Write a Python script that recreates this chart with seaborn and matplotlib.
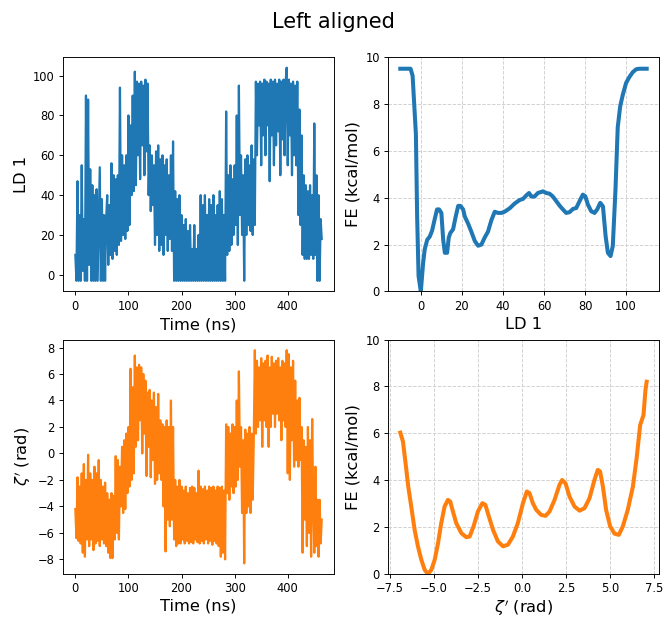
import numpy as np
import matplotlib
matplotlib.use("Agg")
import matplotlib.pyplot as plt
import seaborn as sns

# ---------------- data ----------------
time_step_ns = 2
ld1_series = [
    10, -3, 47, -3, 30, -3, 55, 2, 28, -3,
    90, -3, 88, 5, 53, -3, 45, -3, 40, -3,
    43, -3, 25, 54, -3, 38, -3, 30, -3, 28,
    40, 5, 35, 10, 56, 8, 50, 12, 48, 10,
    50, 15, 94, 17, 60, 20, 55, 18, 60, 22,
    80, 25, 75, 40, 90, 42, 102, 45, 97, 60,
    96, 48, 97, 65, 95, 50, 98, 62, 96, 40,
    65, 32, 60, 35, 55, 15, 62, 20, 65, 12,
    58, 15, 60, 10, 55, 20, 58, 12, 50, 18,
    60, 12, 67, -3, 42, -3, 38, -3, 40, -3,
    30, -3, 25, -3, 28, -3, 22, -3, 25, -3,
    13, -3, 25, -3, 13, -3, 20, -3, 40, -3,
    35, -3, 40, -3, 30, -3, 38, -3, 35, -3,
    40, -3, 30, -3, 35, -3, 42, -3, 38, -3,
    30, -3, 82, 10, 50, 12, 55, 15, 48, 20,
    55, 25, 80, 15, 95, 30, 60, 20, 50, -3,
    58, 20, 60, 25, 55, 22, 65, 20, 58, 25,
    97, 60, 96, 75, 97, 55, 96, 70, 98, 60,
    97, 75, 96, 47, 98, 70, 97, 55, 98, 65,
    96, 72, 98, 50, 97, 68, 98, 60, 97, 104,
    55, 98, 70, 96, 50, 97, 60, 95, 55, 97,
    30, 83, 25, 70, 10, 50, 8, 45, 8, 42,
    8, 45, 10, 40, 8, 76, 10, 50, -3, 40,
    -3, 28, 18,
]
zeta_series = [
    -4.2, -6.4, -1.8, -6.6, -2.5, -6.8, -1.5, -7.5, -0.8, -7.8,
    -2.0, -6.5, -0.1, -7.0, -1.5, -6.5, -2.0, -7.3, -1.0, -6.8,
    -1.5, -6.6, -0.5, -7.0, -2.0, -6.5, -2.5, -6.8, -2.2, -7.0,
    -3.0, -7.5, -3.5, -7.9, -3.0, -7.9, -3.2, -6.5, -0.2, -6.0,
    -0.5, -6.5, -1.0, -4.0, 0.5, -4.5, 1.0, -4.2, 1.5, -3.0,
    2.0, -2.5, 6.4, -2.0, 5.0, -1.5, 7.4, 0.5, 6.5, 1.0,
    6.7, 2.5, 6.5, 0.0, 6.0, 1.5, 5.5, -1.7, 4.6, 0.5,
    4.8, -1.8, 4.0, -0.5, 4.6, -2.3, 3.5, -2.0, 4.5, -1.5,
    2.5, -2.0, 2.2, -4.0, 2.0, -7.4, 2.5, -5.0, 2.0, -5.5,
    4.0, -5.0, 2.0, -6.5, -2.0, -7.0, -2.5, -6.8, -2.0, -6.8,
    -2.5, -6.5, -2.8, -6.8, -2.5, -6.6, -3.0, -6.8, -2.6, -6.7,
    -2.5, -6.8, -2.6, -6.5, -3.0, -6.7, -1.3, -6.8, -2.5, -6.6,
    -2.7, -6.8, -2.5, -6.5, -2.8, -6.8, -2.5, -6.6, -2.6, -6.9,
    -2.5, -6.6, -2.8, -6.8, -2.5, -7.0, -2.6, -7.8, -2.5, -7.5,
    -2.8, -8.0, 2.2, -3.0, 2.0, -3.5, 1.5, -2.5, 2.2, -3.0,
    2.0, -2.5, 4.0, -2.0, 6.2, -1.0, 2.0, -4.5, 1.0, -8.3,
    1.8, -4.5, 1.5, -4.0, 2.0, -4.5, 1.5, -3.5, 1.0, 7.8,
    1.5, 7.0, 2.0, 6.5, 2.5, 7.2, 0.5, 6.8, 2.5, 7.0,
    2.0, 7.4, 0.5, 6.5, 2.0, 7.3, 3.0, 6.8, 2.0, 7.0,
    3.0, 7.2, 2.5, 6.5, 1.0, 7.0, 2.5, 6.8, 2.0, 7.8,
    -1.5, 7.5, -2.0, 6.5, 1.0, 7.0, -1.0, 5.5, -0.5, 4.0,
    -1.0, 4.2, -0.5, 2.0, -7.5, 1.0, -5.0, 0.5, -7.0, 2.0,
    -6.0, 1.0, -7.8, 2.6, -4.0, -7.5, -1.0, -7.0, -3.5, -7.8,
    -3.5, -6.8, -5.0,
]

fe_ld1_x = [-10, -5, -4, -2.4, -1.8, -1.1, 0, 1.1, 1.9, 3.1, 4.4, 5.5, 6.8, 7.9, 8.9,
            10, 10.9, 11.7, 12.8, 13.6, 14.4, 15.7, 17, 18.2, 19.3, 20.6, 21.4, 23,
            24.6, 26.3, 27.9, 29.5, 31.1, 32.7, 34.4, 36, 37.6, 39.2, 40.8, 43.3,
            45.7, 48.1, 49.8, 51.4, 52.7, 53.8, 55.4, 57, 59.5, 61.1, 62.7, 64.3,
            66, 67.6, 69.2, 70.8, 72.4, 74.1, 75.7, 77.3, 78.9, 80.1, 81.4, 83,
            84.6, 85.9, 87.4, 88.7, 90, 91.1, 92.4, 93.5, 94.8, 95.9, 97.1, 98.4,
            100, 101.6, 103.2, 104.9, 106.5, 110]
fe_ld1_y = [9.5, 9.5, 9.2, 6.7, 3.2, 0.66, 0.0, 1.2, 1.8, 2.2, 2.35, 2.6, 3.1, 3.5, 3.5,
            3.35, 2.2, 1.65, 1.65, 2.3, 2.5, 2.65, 3.2, 3.65, 3.65, 3.5, 3.2, 2.9,
            2.55, 2.15, 1.95, 2.0, 2.3, 2.55, 3.05, 3.4, 3.35, 3.35, 3.4, 3.55,
            3.75, 3.9, 3.95, 4.1, 4.2, 4.05, 4.05, 4.2, 4.27, 4.2, 4.17, 4.05,
            3.85, 3.66, 3.5, 3.35, 3.38, 3.52, 3.56, 3.85, 4.13, 4.06, 3.7, 3.42,
            3.35, 3.5, 3.78, 3.63, 2.36, 1.65, 1.51, 1.94, 4.34, 7.0, 7.9, 8.4,
            8.9, 9.15, 9.35, 9.48, 9.5, 9.5]

fe_zeta_x = [-6.9, -6.75, -6.6, -6.45, -6.28, -6.09, -5.9, -5.71, -5.52, -5.33, -5.14,
             -4.95, -4.76, -4.58, -4.39, -4.2, -4.07, -3.92, -3.73, -3.44, -3.16,
             -2.97, -2.75, -2.5, -2.25, -2.08, -1.88, -1.65, -1.37, -1.08, -0.8,
             -0.52, -0.24, 0.05, 0.27, 0.42, 0.61, 0.8, 1.08, 1.33, 1.56, 1.84,
             2.12, 2.27, 2.46, 2.69, 2.97, 3.26, 3.54, 3.82, 4.1, 4.29, 4.42, 4.58,
             4.76, 4.99, 5.24, 5.48, 5.71, 5.99, 6.28, 6.5, 6.69, 6.88, 6.99, 7.06]
fe_zeta_y = [6.03, 5.65, 4.72, 3.73, 2.88, 1.89, 1.18, 0.61, 0.18, 0.0, 0.18,
             0.61, 1.32, 2.17, 2.88, 3.16, 3.09, 2.67, 2.17, 1.74, 1.57,
             1.6, 2.03, 2.67, 3.02, 2.95, 2.45, 1.89, 1.39, 1.18, 1.25,
             1.6, 2.17, 3.02, 3.52, 3.45, 3.02, 2.74, 2.52, 2.48, 2.67, 3.16,
             3.8, 4.01, 3.87, 3.3, 2.88, 2.7, 2.81, 3.23, 4.01, 4.44, 4.37, 3.73,
             2.74, 2.03, 1.72, 1.67, 2.03, 2.74, 3.73, 5.0, 6.35, 6.78, 7.84, 8.2]

title = "Left aligned"
blue = "#1f77b4"
orange = "#ff7f0e"

# ---------------- style ----------------
plt.rcParams.update({
    "font.family": ["DejaVu Sans"],
    "xtick.labelsize": 8.3,
    "ytick.labelsize": 8.3,
    "axes.labelsize": 11.7,
    "axes.linewidth": 0.67,
    "xtick.major.size": 2.9,
    "ytick.major.size": 2.9,
    "xtick.major.width": 0.67,
    "ytick.major.width": 0.67,
    "xtick.major.pad": 2.9,
    "ytick.major.pad": 2.9,
    "axes.labelpad": 3.3,
})

fig, axes = plt.subplots(2, 2, figsize=(6.67, 6.17), dpi=100)
fig.subplots_adjust(left=0.0945, right=0.988, top=0.9076, bottom=0.0697,
                    wspace=0.199, hspace=0.205)

t = np.arange(len(ld1_series)) * time_step_ns

ax = axes[0, 0]
sns.lineplot(x=t, y=ld1_series, ax=ax, color=blue, linewidth=1.6)
ax.set_xlabel("Time (ns)")
ax.set_ylabel("LD 1")

ax = axes[0, 1]
sns.lineplot(x=fe_ld1_x, y=fe_ld1_y, ax=ax, color=blue, linewidth=2.9, sort=False)
ax.set_ylim(0, 10)
ax.grid(True, linestyle="--", color="#d0d0d0", linewidth=0.67)
ax.set_axisbelow(True)
ax.set_xlabel("LD 1")
ax.set_ylabel("FE (kcal/mol)")

t2 = np.arange(len(zeta_series)) * time_step_ns
ax = axes[1, 0]
sns.lineplot(x=t2, y=zeta_series, ax=ax, color=orange, linewidth=1.6)
ax.set_xlabel("Time (ns)", labelpad=2.5)
ax.set_ylabel(r"$\zeta'$ (rad)")

ax = axes[1, 1]
sns.lineplot(x=fe_zeta_x, y=fe_zeta_y, ax=ax, color=orange, linewidth=2.9, sort=False)
ax.set_ylim(0, 10)
ax.grid(True, linestyle="--", color="#d0d0d0", linewidth=0.67)
ax.set_axisbelow(True)
ax.set_xlabel(r"$\zeta'$ (rad)", labelpad=2.0)
ax.set_ylabel("FE (kcal/mol)")

fig.suptitle(title, fontsize=15)
fig.savefig("out.png", dpi=100)
